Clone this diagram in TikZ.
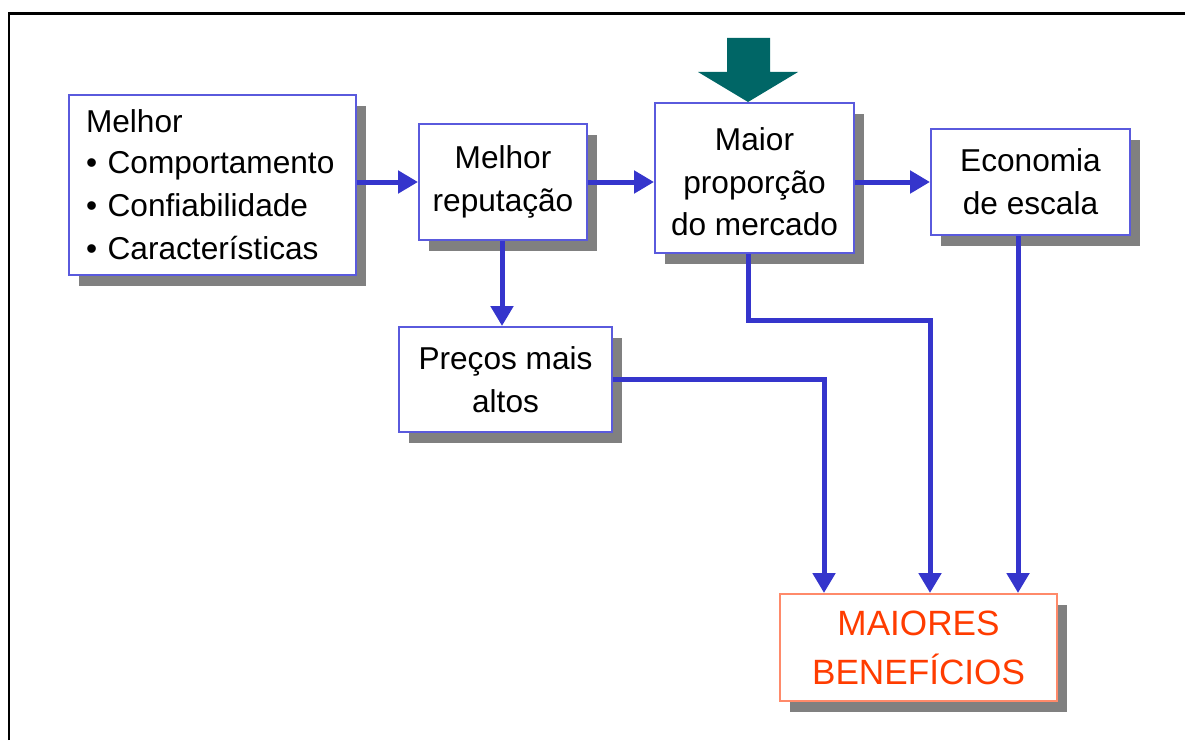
\documentclass[tikz,border=0pt]{standalone}
\usepackage{fontspec}
\setmainfont{Liberation Sans}
\usetikzlibrary{arrows.meta,shadows,calc}
\definecolor{flowblue}{HTML}{3535CC}
\definecolor{boxedge}{HTML}{5A5ADD}
\definecolor{pushteal}{HTML}{006666}
\definecolor{shadowgray}{HTML}{808080}
\definecolor{goaledge}{HTML}{FF8A6A}
\definecolor{goaltext}{HTML}{FF3C00}
\begin{document}
\begin{tikzpicture}[x=0.02cm,y=-0.02cm,
  box/.style={draw=boxedge, line width=0.04cm, fill=white, inner sep=0pt,
    align=center, font=\fontsize{18}{24.4}\selectfont,
    drop shadow={shadow xshift=0.2cm, shadow yshift=-0.22cm, fill=shadowgray, opacity=1}},
  flow/.style={draw=flowblue, line width=0.1cm, -{Triangle[width=0.44cm,length=0.4cm]}}]
\useasboundingbox (0,0) rectangle (1185,740);

% frame
\draw[line width=0.06cm] (9,740) -- (9,14) -- (1185,14);

% boxes
\node[box, minimum width=5.74cm, minimum height=3.6cm, text width=5.06cm, inner xsep=0.34cm, align=left]
  (b1) at (212.5,185) {Melhor\\[-1pt]\textbullet\ Comportamento\\\textbullet\ Confiabilidade\\\textbullet\ Características};
\node[box, minimum width=3.36cm, minimum height=2.32cm] (b2) at (503,182) {Melhor\\reputação};
\node[box, minimum width=3.98cm, minimum height=3.0cm, text depth=0pt] (b3) at (754.5,178) {\strut Maior\\proporção\\do mercado};
\node[box, minimum width=3.98cm, minimum height=2.12cm] (b4) at (1030.5,182) {Economia\\de escala};
\node[box, minimum width=4.26cm, minimum height=2.1cm] (b5) at (505.5,379.5) {Preços mais\\altos};
\node[box, draw=goaledge, text=goaltext, font=\fontsize{20}{28}\selectfont,
  minimum width=5.54cm, minimum height=2.14cm] (b6) at (918.5,647.5) {MAIORES\\BENEFÍCIOS};

% incoming push arrow
\fill[pushteal] (727,38) -- (770,38) -- (770,72) -- (798,72) -- (748,102) -- (698,72) -- (727,72) -- cycle;

% row of the horizontal chain and drop points of the connectors
\coordinate (row) at (0,182);
\coordinate (c1) at (824,0);
\coordinate (c2) at (748,0);
\coordinate (c3) at (930,320);
\coordinate (c4) at (1018,0);
\coordinate (c5) at (502,0);

% connectors
\draw[flow] (b1.east |- row) -- (b2.west |- row);
\draw[flow] (b2.east |- row) -- (b3.west |- row);
\draw[flow] (b3.east |- row) -- (b4.west |- row);
\draw[flow] (b2.south -| c5) -- (b5.north -| c5);
\draw[flow] (b5.east) -| (b6.north -| c1);
\draw[flow] (b3.south -| c2) |- (c3) -- (b6.north -| c3);
\draw[flow] (b4.south -| c4) -- (b6.north -| c4);
\end{tikzpicture}
\end{document}
